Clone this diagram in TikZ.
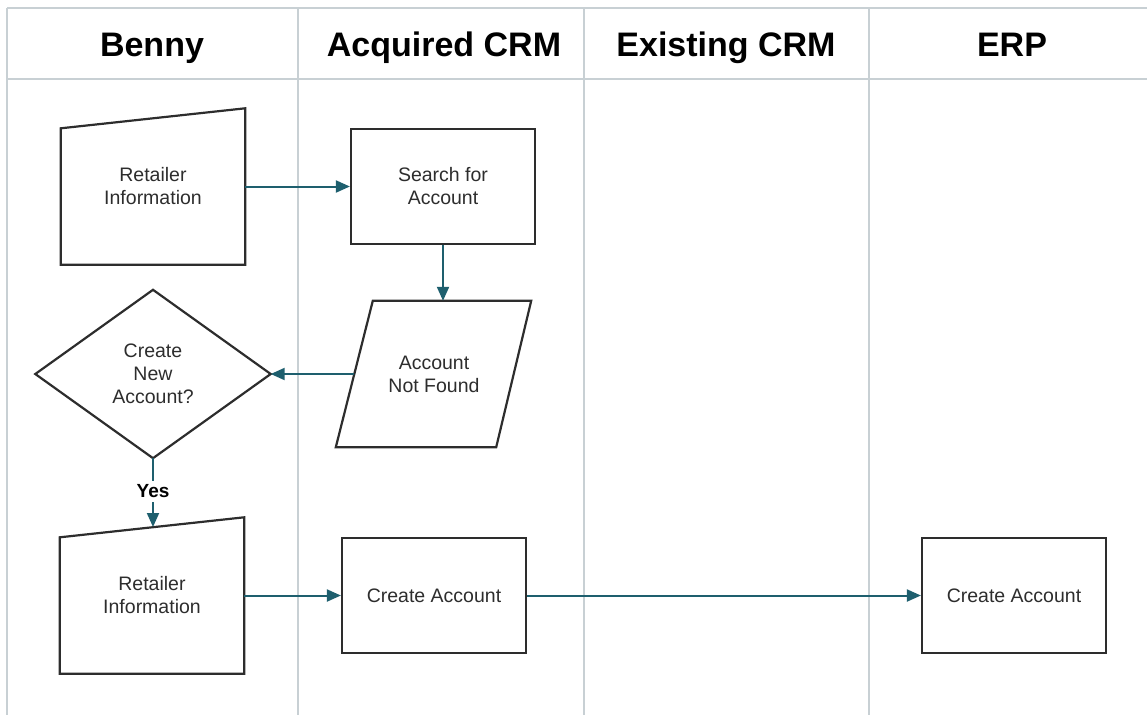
\documentclass[tikz,border=0pt]{standalone}
\usepackage{fontspec}
\setmainfont{Liberation Sans}
\usetikzlibrary{arrows.meta,calc}
\definecolor{lane}{RGB}{200,208,212}
\definecolor{flow}{RGB}{30,95,110}
\definecolor{ink}{RGB}{45,45,45}
\tikzset{
  lanerule/.style={draw=lane,line width=2pt},
  header/.style={font=\bfseries\fontsize{34}{37}\selectfont,anchor=base,text=black},
  holder/.style={shape=rectangle,inner sep=0pt,align=center,text=ink,
     font=\fontsize{19.5}{23}\selectfont},
  outline/.style={draw=ink,line width=2.2pt,line join=miter},
  boxnode/.style={holder,outline,minimum width=184pt,minimum height=115pt},
  arr/.style={draw=flow,line width=2pt,-{Triangle[length=14pt,width=12pt]}},
  plain/.style={draw=flow,line width=2pt},
}
\begin{document}
\begin{tikzpicture}[x=1pt,y=-1pt]
\useasboundingbox (0,0) rectangle (1147,715);
% lanes
\draw[lanerule] (7,8) -- (1147,8);
\draw[lanerule] (7,79) -- (1147,79);
\draw[lanerule] (7,8) -- (7,715);
\draw[lanerule] (298,8) -- (298,715);
\draw[lanerule] (584,8) -- (584,715);
\draw[lanerule] (869,8) -- (869,715);
% headers
\node[header] (hB) at (152,56) {Benny};
\node[header] (hA) at (444,56) {Acquired CRM};
\node[header] (hE) at (726,56) {Existing CRM};
\node[header] (hR) at (1012,56) {ERP};
% manual input 1
\node[holder,minimum width=184pt,minimum height=156pt] (ri1) at (153,186.5) {Retailer\\Information};
\draw[outline] (ri1.south west) -- (ri1.south east) -- (ri1.north east) -- ($(ri1.north west)+(0,20)$) -- cycle;
% search
\node[boxnode] (search) at (443,186.5) {Search for\\Account};
% account not found
\node[holder,minimum width=159pt,minimum height=146pt] (anf) at (434,374) {Account\\Not Found};
\draw[outline] ($(anf.north west)+(18.5,0)$) -- ($(anf.north east)+(17.5,0)$) -- ($(anf.south east)+(-17.5,0)$) -- ($(anf.south west)+(-18.5,0)$) -- cycle;
% decision
\node[holder,minimum width=235pt,minimum height=168pt] (dec) at (153,374) {Create\\New\\Account?};
\draw[outline] (dec.west) -- (dec.north) -- (dec.east) -- (dec.south) -- cycle;
% yes label
\node[holder,font=\bfseries\fontsize{19}{21}\selectfont,text=black,minimum height=21pt] (yes) at (153,491.5) {Yes};
% manual input 2
\node[holder,minimum width=184pt,minimum height=156pt] (ri2) at (152,595.5) {Retailer\\Information};
\draw[outline] (ri2.south west) -- (ri2.south east) -- (ri2.north east) -- ($(ri2.north west)+(0,20)$) -- cycle;
\coordinate (ri2top) at (153,527);
% create accounts
\node[boxnode] (ca1) at (434,595.5) {Create Account};
\node[boxnode] (erp) at (1014,595.5) {Create Account};
% connectors
\draw[arr] (ri1.east) -- (search.west);
\draw[arr] (search.south) -- (search.south |- anf.north);
\draw[arr] (anf.west) -- (dec.east);
\draw[plain] (dec.south) -- (yes.north);
\draw[arr] (yes.south) -- (ri2top);
\draw[arr] (ri2.east) -- (ca1.west);
\draw[arr] (ca1.east) -- (erp.west);
\end{tikzpicture}
\end{document}
